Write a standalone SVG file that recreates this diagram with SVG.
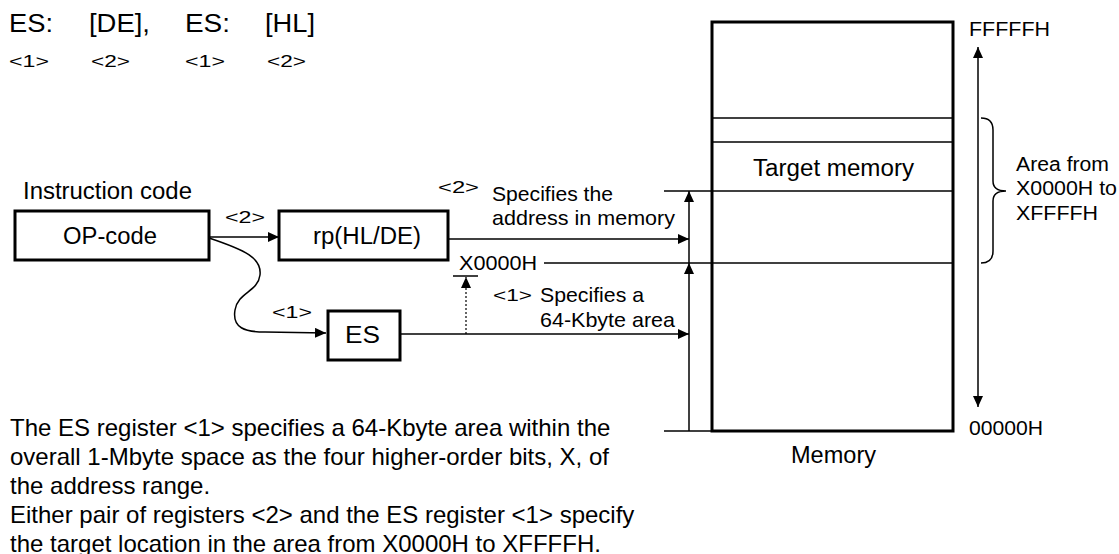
<svg xmlns="http://www.w3.org/2000/svg" width="1119" height="554" viewBox="0 0 1119 554">
<defs>
<marker id="ah" markerWidth="12" markerHeight="10" refX="11" refY="5" orient="auto" markerUnits="userSpaceOnUse">
<path d="M0,0 L11,5 L0,10 Z" fill="#000"/>
</marker>
<style>
text{font-family:"Liberation Sans",Arial,sans-serif;fill:#000}
.box{fill:#fff;stroke:#000;stroke-width:3}
.ln{fill:none;stroke:#000;stroke-width:1.5}
.t24{font-size:24px}
.t23{font-size:23px}
.t21{font-size:21px}
.t20{font-size:20px}
.t25{font-size:25px}
.lab{font-size:17px}
</style>
</defs>
<rect width="1119" height="554" fill="#fff"/>

<g id="header">
<text class="t25" x="9" y="32" textLength="44" lengthAdjust="spacingAndGlyphs">ES:</text>
<text class="t25" x="89" y="32" textLength="61" lengthAdjust="spacingAndGlyphs">[DE],</text>
<text class="t25" x="185" y="32" textLength="45" lengthAdjust="spacingAndGlyphs">ES:</text>
<text class="t25" x="265" y="32" textLength="50" lengthAdjust="spacingAndGlyphs">[HL]</text>
<text class="lab" x="9" y="67" textLength="40" lengthAdjust="spacingAndGlyphs">&lt;1&gt;</text>
<text class="lab" x="91" y="67" textLength="39" lengthAdjust="spacingAndGlyphs">&lt;2&gt;</text>
<text class="lab" x="185" y="67" textLength="40" lengthAdjust="spacingAndGlyphs">&lt;1&gt;</text>
<text class="lab" x="267" y="67" textLength="39" lengthAdjust="spacingAndGlyphs">&lt;2&gt;</text>
</g>

<g id="memory">
<rect class="box" x="712" y="22" width="241" height="409"/>
<line class="ln" x1="712" y1="118" x2="953" y2="118"/>
<line class="ln" x1="712" y1="142" x2="953" y2="142"/>
<line class="ln" x1="664" y1="191" x2="953" y2="191"/>
<line class="ln" x1="544" y1="263" x2="953" y2="263"/>
<line class="ln" x1="664" y1="431" x2="712" y2="431"/>
<text class="t23" x="753" y="176" textLength="161" lengthAdjust="spacingAndGlyphs">Target memory</text>
<text class="t23" x="791" y="463" textLength="85" lengthAdjust="spacingAndGlyphs">Memory</text>
</g>

<g id="opcode">
<text class="t23" x="23" y="199" textLength="169" lengthAdjust="spacingAndGlyphs">Instruction code</text>
<rect class="box" x="15" y="211" width="194" height="49"/>
<text class="t23" x="63" y="244" textLength="94" lengthAdjust="spacingAndGlyphs">OP-code</text>
</g>

<g id="rp">
<rect class="box" x="279" y="211" width="169" height="49"/>
<text class="t23" x="313" y="244" textLength="108" lengthAdjust="spacingAndGlyphs">rp(HL/DE)</text>
</g>

<g id="es">
<rect class="box" x="328" y="311" width="72" height="49"/>
<text class="t24" x="345" y="343" textLength="35" lengthAdjust="spacingAndGlyphs">ES</text>
</g>

<g id="connectors">
<line class="ln" x1="209" y1="237" x2="279" y2="237" marker-end="url(#ah)"/>
<path class="ln" d="M209,238 C245,250 262,258 260,275 C258,292 238,292 235,310 C232,328 245,332 265,332 L326,333" marker-end="url(#ah)"/>
<line class="ln" x1="448" y1="239" x2="689" y2="239" marker-end="url(#ah)"/>
<line class="ln" x1="400" y1="334" x2="689" y2="334" marker-end="url(#ah)"/>
<line x1="466" y1="334" x2="466" y2="277" stroke="#000" stroke-width="1.2" stroke-dasharray="2,2" marker-end="url(#ah)"/>
<line class="ln" x1="453" y1="276" x2="478" y2="276"/>
<line class="ln" x1="689" y1="263" x2="689" y2="191" marker-end="url(#ah)"/>
<line class="ln" x1="689" y1="431" x2="689" y2="263" marker-end="url(#ah)"/>
<line class="ln" x1="978" y1="230" x2="978" y2="47" marker-end="url(#ah)"/>
<line class="ln" x1="978" y1="230" x2="978" y2="407" marker-end="url(#ah)"/>
<path class="ln" d="M981,118 Q993,118 993,130 L993,181 Q993,191 1006,191 Q993,191 993,201 L993,251 Q993,263 981,263"/>
</g>

<g id="labels">
<text class="lab" x="225" y="223" textLength="40" lengthAdjust="spacingAndGlyphs">&lt;2&gt;</text>
<text class="lab" x="272" y="318" textLength="40" lengthAdjust="spacingAndGlyphs">&lt;1&gt;</text>
<text class="lab" x="438" y="193" textLength="41" lengthAdjust="spacingAndGlyphs">&lt;2&gt;</text>
<text class="t21" x="492" y="201" textLength="121" lengthAdjust="spacingAndGlyphs">Specifies the</text>
<text class="t21" x="492" y="225" textLength="183" lengthAdjust="spacingAndGlyphs">address in memory</text>
<text class="t20" x="459" y="270" textLength="78" lengthAdjust="spacingAndGlyphs">X0000H</text>
<text class="lab" x="493" y="301" textLength="39" lengthAdjust="spacingAndGlyphs">&lt;1&gt;</text>
<text class="t21" x="540" y="302" textLength="104" lengthAdjust="spacingAndGlyphs">Specifies a</text>
<text class="t21" x="540" y="327" textLength="135" lengthAdjust="spacingAndGlyphs">64-Kbyte area</text>
<text class="t20" x="969" y="36" textLength="81" lengthAdjust="spacingAndGlyphs">FFFFFH</text>
<text class="t20" x="969" y="435" textLength="74" lengthAdjust="spacingAndGlyphs">00000H</text>
<text class="t20" x="1016" y="171" textLength="93" lengthAdjust="spacingAndGlyphs">Area from</text>
<text class="t20" x="1016" y="195" textLength="101" lengthAdjust="spacingAndGlyphs">X0000H to</text>
<text class="t20" x="1016" y="220" textLength="82" lengthAdjust="spacingAndGlyphs">XFFFFH</text>
</g>

<g id="description">
<text class="t24" x="10" y="436">The ES register &lt;1&gt; specifies a 64-Kbyte area within the</text>
<text class="t24" x="10" y="465">overall 1-Mbyte space as the four higher-order bits, X, of</text>
<text class="t24" x="10" y="494">the address range.</text>
<text class="t24" x="10" y="523">Either pair of registers &lt;2&gt; and the ES register &lt;1&gt; specify</text>
<text class="t24" x="10" y="552">the target location in the area from X0000H to XFFFFH.</text>
</g>
</svg>
